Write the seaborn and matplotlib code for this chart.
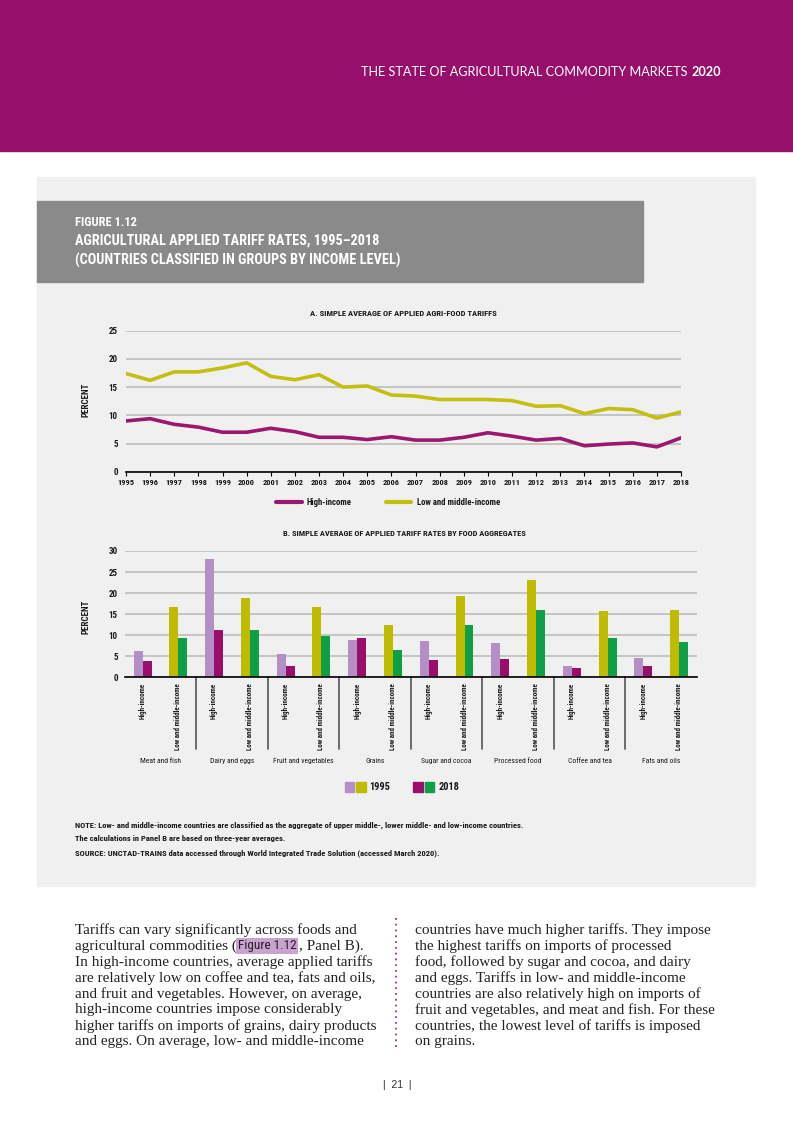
import matplotlib
matplotlib.use('Agg')
import matplotlib.pyplot as plt
import seaborn as sns
import pandas as pd
from matplotlib import font_manager
from matplotlib.patches import Rectangle, Patch
from matplotlib.lines import Line2D
from matplotlib.legend_handler import HandlerTuple

W, H = 793, 1122

# Panel A: simple average of applied agri-food tariffs (percent)
years = list(range(1995, 2019))
high_income = [9.0, 9.4, 8.4, 7.9, 7.0, 7.0, 7.7, 7.1, 6.1, 6.1, 5.7, 6.2,
               5.6, 5.6, 6.1, 6.9, 6.3, 5.6, 5.9, 4.6, 4.9, 5.1, 4.4, 6.0]
low_middle = [17.4, 16.2, 17.7, 17.7, 18.4, 19.3, 16.9, 16.3, 17.2, 15.0, 15.2, 13.6,
              13.4, 12.8, 12.8, 12.8, 12.6, 11.6, 11.7, 10.3, 11.2, 11.0, 9.5, 10.6]

# Panel B: simple average of applied tariff rates by food aggregates (percent)
food_groups = ["Meat and fish", "Dairy and eggs", "Fruit and vegetables", "Grains",
               "Sugar and cocoa", "Processed food", "Coffee and tea", "Fats and oils"]
income_levels = ["High-income", "Low and middle-income"]
hi_1995 = [6.3, 28.1, 5.6, 8.9, 8.7, 8.2, 2.7, 4.6]
hi_2018 = [3.9, 11.3, 2.7, 9.4, 4.1, 4.4, 2.2, 2.7]
lmi_1995 = [16.8, 18.9, 16.8, 12.5, 19.4, 23.0, 15.8, 16.1]
lmi_2018 = [9.4, 11.3, 9.9, 6.5, 12.5, 16.1, 9.4, 8.5]

HEADER = "#960F6B"
PANEL = "#F0F0F0"
TITLE_BOX = "#8A8A8A"
LINE_HI = "#9C176F"
LINE_LMI = "#C3BF10"
BAR = {("High-income", "1995"): "#B48EC4", ("High-income", "2018"): "#980E6A",
       ("Low and middle-income", "1995"): "#BFBB00", ("Low and middle-income", "2018"): "#0E9F47"}

sns.set_theme(style="white")
names = {f.name for f in font_manager.fontManager.ttflist}
COND = next((n for n in ["Liberation Sans Narrow", "Roboto Condensed"] if n in names), "DejaVu Sans")
plt.rcParams['font.family'] = [COND, 'DejaVu Sans']
TXT = "#1A1A1A"


def rect(x0, y0, x1, y1):
    return [x0 / W, 1 - y1 / H, (x1 - x0) / W, (y1 - y0) / H]


def fx(x):
    return x / W


def fy(y):
    return 1 - y / H


fig = plt.figure(figsize=(W / 100, H / 100), dpi=100)
fig.patch.set_facecolor("white")

# page background pieces
fig.add_artist(Rectangle((0, fy(151)), 1, 151 / H, transform=fig.transFigure, color=HEADER, zorder=0))
fig.add_artist(Rectangle((fx(37), fy(886)), (755 - 37) / W, (886 - 177) / H,
                         transform=fig.transFigure, color=PANEL, zorder=0))
fig.add_artist(Rectangle((fx(37), fy(282)), (643 - 37) / W, (282 - 201) / H,
                         transform=fig.transFigure, color=TITLE_BOX, zorder=0))

renderer = fig.canvas.get_renderer()

# header
t20 = fig.text(fx(721), fy(72), "2020", color="white", fontsize=9.1, fontweight="bold",
               family="Lato", ha="right", va="center")
w20 = t20.get_window_extent(renderer=renderer).width
fig.text(fx(721) - (w20 + 4) / W, fy(72), "THE STATE OF AGRICULTURAL COMMODITY MARKETS",
         color="white", fontsize=9.1, family="Lato", ha="right", va="center")

# figure title
fig.text(fx(75), fy(223), "FIGURE 1.12", color="white", fontsize=9, fontweight="bold",
         ha="left", va="center")
fig.text(fx(75), fy(241), "AGRICULTURAL APPLIED TARIFF RATES, 1995\u20132018", color="white",
         fontsize=10.3, fontweight="bold", ha="left", va="center")
fig.text(fx(75), fy(260), "(COUNTRIES CLASSIFIED IN GROUPS BY INCOME LEVEL)", color="white",
         fontsize=10.3, fontweight="bold", ha="left", va="center")

# ---------------- Panel A ----------------
axA = fig.add_axes(rect(126, 330.7, 681, 471.7))
axA.set_facecolor("none")
df_a = pd.DataFrame({
    "Year": years * 2,
    "Percent": high_income + low_middle,
    "Income": ["High-income"] * len(years) + ["Low and middle-income"] * len(years),
})
sns.lineplot(data=df_a, x="Year", y="Percent", hue="Income", hue_order=income_levels,
             palette=[LINE_HI, LINE_LMI], linewidth=2.6, ax=axA, legend=False)
axA.set_xlim(1995, 2018)
axA.set_ylim(0, 25)
axA.set_yticks(range(0, 26, 5))
axA.set_xticks(years)
axA.set_xticklabels([str(y) for y in years], fontsize=6, fontweight="bold", color=TXT)
axA.set_yticklabels([str(v) for v in range(0, 26, 5)], fontsize=6.5, fontweight="bold", color=TXT)
axA.yaxis.grid(True, color="#BDBDBD", linewidth=1.2)
axA.set_axisbelow(True)
for s in ["top", "right", "left"]:
    axA.spines[s].set_visible(False)
axA.spines["bottom"].set_color("black")
axA.spines["bottom"].set_linewidth(1.2)
axA.tick_params(axis="x", length=3, width=0.8, color="black", pad=2, bottom=True)
axA.tick_params(axis="y", length=0, pad=6)
axA.set_xlabel("")
axA.set_ylabel("")
fig.text(fx(86), fy(400), "PERCENT", rotation=90, fontsize=6.5, fontweight="bold",
         color=TXT, ha="center", va="center")
fig.text(fx(403), fy(313), "A. SIMPLE AVERAGE OF APPLIED AGRI-FOOD TARIFFS", fontsize=6.1,
         fontweight="bold", color=TXT, ha="center", va="center")
handles_a = [Line2D([], [], color=LINE_HI, lw=3), Line2D([], [], color=LINE_LMI, lw=3)]
axA.legend(handles_a, income_levels, loc="center", bbox_to_anchor=(fx(388), fy(503)),
           bbox_transform=fig.transFigure, ncol=2, frameon=False,
           prop={"size": 6.3, "weight": "bold"}, handlelength=2.9, handletextpad=0.6,
           columnspacing=3.9, labelcolor=TXT)

# ---------------- Panel B ----------------
axB = fig.add_axes(rect(124.7, 551, 697, 677.3))
axB.set_facecolor("none")
rows = []
for g, a, b, c, d in zip(food_groups, hi_1995, hi_2018, lmi_1995, lmi_2018):
    rows += [(g + "|" + income_levels[0], "1995", a), (g + "|" + income_levels[0], "2018", b),
             (g + "|" + income_levels[1], "1995", c), (g + "|" + income_levels[1], "2018", d)]
df_b = pd.DataFrame(rows, columns=["Slot", "Year", "Percent"])
slots = [g + "|" + i for g in food_groups for i in income_levels]
sns.barplot(data=df_b, x="Slot", y="Percent", hue="Year", order=slots, hue_order=["1995", "2018"],
            width=0.5, saturation=1, ax=axB, legend=False)
for cont, yr in zip(axB.containers, ["1995", "2018"]):
    for k, bar in enumerate(cont):
        bar.set_facecolor(BAR[(income_levels[k % 2], yr)])
        bar.set_edgecolor("none")
axB.set_xlim(-0.5, len(slots) - 0.5)
axB.set_ylim(0, 30)
axB.set_yticks(range(0, 31, 5))
axB.set_yticklabels([str(v) for v in range(0, 31, 5)], fontsize=6.5, fontweight="bold", color=TXT)
axB.set_xticks(range(len(slots)))
axB.set_xticklabels([s.split("|")[1] for s in slots], rotation=90, fontsize=5.0,
                    fontweight="bold", color=TXT, va="top", ha="center")
axB.yaxis.grid(True, color="#BDBDBD", linewidth=1.2)
axB.set_axisbelow(True)
for s in ["top", "right", "left"]:
    axB.spines[s].set_visible(False)
axB.spines["bottom"].set_color("black")
axB.spines["bottom"].set_linewidth(1.2)
axB.tick_params(axis="x", length=0, pad=4)
axB.tick_params(axis="y", length=0, pad=5)
axB.set_xlabel("")
axB.set_ylabel("")
xt = axB.get_xaxis_transform()
axh = 677.3 - 551
for b in range(1, len(food_groups)):
    axB.plot([2 * b - 0.5, 2 * b - 0.5], [0, -72 / axh], transform=xt, color="#555555",
             lw=1.2, clip_on=False)
for gi, g in enumerate(food_groups):
    axB.text(2 * gi + 0.5, -(761 - 677.3) / axh, g, transform=xt, ha="center", va="center",
             fontsize=5.5, color=TXT)
fig.text(fx(86), fy(617), "PERCENT", rotation=90, fontsize=6.5, fontweight="bold",
         color=TXT, ha="center", va="center")
fig.text(fx(404), fy(534), "B. SIMPLE AVERAGE OF APPLIED TARIFF RATES BY FOOD AGGREGATES",
         fontsize=6.0, fontweight="bold", color=TXT, ha="center", va="center")
h95 = (Patch(color=BAR[("High-income", "1995")]), Patch(color=BAR[("Low and middle-income", "1995")]))
h18 = (Patch(color=BAR[("High-income", "2018")]), Patch(color=BAR[("Low and middle-income", "2018")]))
axB.legend([h95, h18], ["1995", "2018"], handler_map={tuple: HandlerTuple(ndivide=None, pad=0.2)},
           loc="center", bbox_to_anchor=(fx(402), fy(787)), bbox_transform=fig.transFigure,
           ncol=2, frameon=False, prop={"size": 7.5, "weight": "bold"}, handlelength=2.0,
           handleheight=1.1, handletextpad=0.4, columnspacing=2.2, labelcolor=TXT)

# notes
notes = ["NOTE: Low- and middle-income countries are classified as the aggregate of upper middle-, "
         "lower middle- and low-income countries.",
         "The calculations in Panel B are based on three-year averages.",
         "SOURCE: UNCTAD-TRAINS data accessed through World Integrated Trade Solution (accessed March 2020)."]
for line, y in zip(notes, [825, 838, 853]):
    fig.text(fx(75), fy(y), line, fontsize=6.1, fontweight="bold", color=TXT, ha="left", va="center")

# body text
left_col = ["Tariffs can vary significantly across foods and",
            "agricultural commodities (",
            "In high-income countries, average applied tariffs",
            "are relatively low on coffee and tea, fats and oils,",
            "and fruit and vegetables. However, on average,",
            "high-income countries impose considerably",
            "higher tariffs on imports of grains, dairy products",
            "and eggs. On average, low- and middle-income"]
right_col = ["countries have much higher tariffs. They impose",
             "the highest tariffs on imports of processed",
             "food, followed by sugar and cocoa, and dairy",
             "and eggs. Tariffs in low- and middle-income",
             "countries are also relatively high on imports of",
             "fruit and vegetables, and meat and fish. For these",
             "countries, the lowest level of tariffs is imposed",
             "on grains."]
BODY = dict(fontsize=11, family="Liberation Serif", color="#222222", va="center", ha="left")
for k, line in enumerate(left_col):
    t = fig.text(fx(75), fy(930 + 16 * k), line, **BODY)
    if k == 1:
        x1 = t.get_window_extent(renderer=renderer).x1
        tf = fig.text(x1 / W + 1 / W, fy(930 + 16 * k), "Figure 1.12", fontsize=9.5, color="#222222",
                      va="center", ha="left",
                      bbox=dict(facecolor="#C9A2D0", edgecolor="none", pad=1.2))
        x2 = tf.get_window_extent(renderer=renderer).x1
        fig.text(x2 / W + 2 / W, fy(930 + 16 * k), ", Panel B).", **BODY)
for k, line in enumerate(right_col):
    fig.text(fx(415), fy(930 + 16 * k), line, **BODY)
fig.add_artist(Line2D([fx(396), fx(396)], [fy(918), fy(1048)], transform=fig.transFigure,
                      color="#B0307F", lw=1.3, linestyle=(0, (1, 2.2))))
fig.text(fx(397), fy(1085), "|  21  |", fontsize=7.5, family="Liberation Sans", color="#333333",
         ha="center", va="center")

fig.savefig("out.png", dpi=100, facecolor=fig.get_facecolor())
